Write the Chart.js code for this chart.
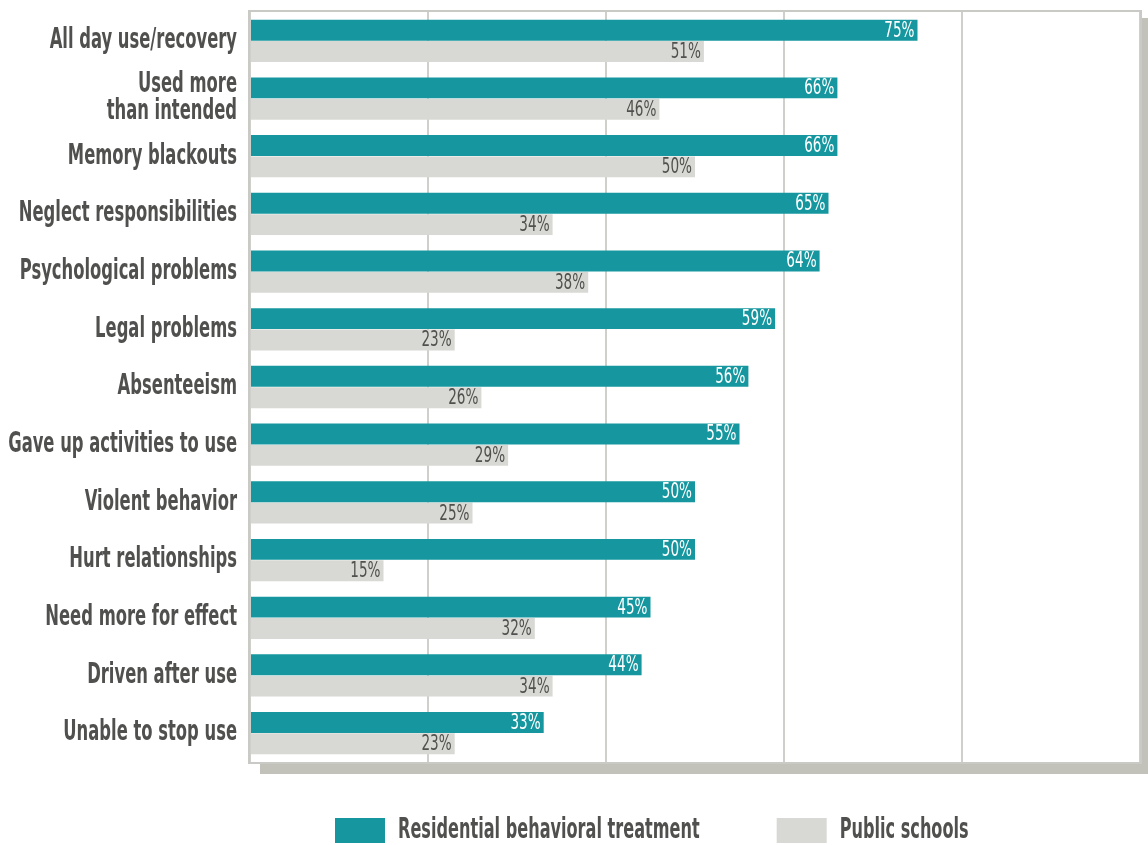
<!DOCTYPE html>
<html>
<head>
<meta charset="utf-8">
<script src="https://cdn.jsdelivr.net/npm/chart.js@4.4.1/dist/chart.umd.min.js"></script>
<style>
  html, body { margin: 0; padding: 0; background: #fff; }
</style>
</head>
<body>
<canvas id="myChart" width="1148" height="845"></canvas>
<script>
const categories = [
    'All day use/recovery',
    ['Used more', 'than intended'],
    'Memory blackouts',
    'Neglect responsibilities',
    'Psychological problems',
    'Legal problems',
    'Absenteeism',
    'Gave up activities to use',
    'Violent behavior',
    'Hurt relationships',
    'Need more for effect',
    'Driven after use',
    'Unable to stop use'
];
const residential = [75, 66, 66, 65, 64, 59, 56, 55, 50, 50, 45, 44, 33];
const publicSchools = [51, 46, 50, 34, 38, 23, 26, 29, 25, 15, 32, 34, 23];
const seriesNames = ['Residential behavioral treatment', 'Public schools'];

const FONT = "'DejaVu Sans Condensed', 'Liberation Sans Narrow', sans-serif";
const TEAL = '#16979f';
const GREY = '#d8d8d4';
const INK = '#50504e';

// draws text squeezed horizontally by sx, anchored at x with the given alignment
function narrowText(ctx, text, x, y, align, sx) {
    const w = ctx.measureText(text).width * sx;
    let left = x;
    if (align === 'right') left = x - w;
    else if (align === 'center') left = x - w / 2;
    ctx.save();
    ctx.translate(left, y);
    ctx.scale(sx, 1);
    ctx.textAlign = 'left';
    ctx.fillText(text, 0, 0);
    ctx.restore();
    return w;
}

// white panel with a grey drop shadow behind the bars, thin frame on top
const framePlugin = {
    id: 'frame',
    beforeDraw(chart) {
        const { ctx, chartArea: a } = chart;
        ctx.save();
        ctx.fillStyle = '#c2c2bb';
        ctx.fillRect(a.left + 10, a.top + 6, a.right - a.left, a.bottom - a.top + 6);
        ctx.fillRect(a.left + 10, a.bottom, a.right - a.left, 12);
        ctx.fillStyle = '#ffffff';
        ctx.fillRect(a.left, a.top, a.right - a.left, a.bottom - a.top);
        ctx.restore();
    },
    beforeDatasetsDraw(chart) {
        const { ctx, chartArea: a } = chart;
        ctx.save();
        ctx.strokeStyle = '#c9c9c6';
        ctx.lineWidth = 2;
        ctx.strokeRect(a.left - 1, a.top - 1, a.right - a.left + 2, a.bottom - a.top + 2);
        ctx.restore();
    }
};

// category names to the left of the panel
const categoryLabels = {
    id: 'categoryLabels',
    afterDraw(chart) {
        const ctx = chart.ctx;
        const yScale = chart.scales.y;
        const x = chart.chartArea.left - 13;
        ctx.save();
        ctx.font = 'bold 28px ' + FONT;
        ctx.fillStyle = INK;
        ctx.textBaseline = 'middle';
        chart.data.labels.forEach((label, i) => {
            const lines = Array.isArray(label) ? label : [label];
            const yc = yScale.getPixelForValue(i);
            const lh = 27;
            lines.forEach((line, k) => {
                const y = yc + (k - (lines.length - 1) / 2) * lh;
                narrowText(ctx, line, x, y, 'right', 0.65);
            });
        });
        ctx.restore();
    }
};

// percentage printed inside the end of every bar
const valueLabels = {
    id: 'valueLabels',
    afterDatasetsDraw(chart) {
        const ctx = chart.ctx;
        ctx.save();
        ctx.font = '21px ' + FONT;
        ctx.textBaseline = 'middle';
        chart.data.datasets.forEach((ds, i) => {
            ctx.fillStyle = i === 0 ? '#ffffff' : INK;
            chart.getDatasetMeta(i).data.forEach((bar, j) => {
                narrowText(ctx, ds.data[j] + '%', bar.x - 3, bar.y + 1, 'right', 0.72);
            });
        });
        ctx.restore();
    }
};

// legend row under the panel
const legendRow = {
    id: 'legendRow',
    afterDraw(chart) {
        const ctx = chart.ctx;
        const top = chart.chartArea.bottom + 56;
        let x = 335;
        ctx.save();
        ctx.font = 'bold 28px ' + FONT;
        ctx.textBaseline = 'middle';
        chart.data.datasets.forEach(ds => {
            ctx.fillStyle = ds.backgroundColor;
            ctx.fillRect(x, top, 50, 25);
            ctx.fillStyle = INK;
            const w = narrowText(ctx, ds.label, x + 63, top + 13, 'left', 0.64);
            x += 63 + w + 77;
        });
        ctx.restore();
    }
};

const config = {
    type: 'bar',
    data: {
        labels: categories,
        datasets: [{
            label: seriesNames[0],
            data: residential,
            backgroundColor: TEAL,
            categoryPercentage: 0.74,
            barPercentage: 0.98
        }, {
            label: seriesNames[1],
            data: publicSchools,
            backgroundColor: GREY,
            categoryPercentage: 0.74,
            barPercentage: 0.98
        }]
    },
    options: {
        indexAxis: 'y',
        responsive: false,
        animation: { duration: 0 },
        layout: { padding: { top: 12, right: 8, left: 0, bottom: 83 } },
        scales: {
            x: {
                min: 0,
                max: 100,
                ticks: { display: false, stepSize: 20 },
                grid: { color: '#cfcfcc', lineWidth: 2, drawTicks: false },
                border: { display: false }
            },
            y: {
                grid: { display: false, drawTicks: false },
                border: { display: false },
                ticks: { display: false, autoSkip: false },
                afterFit(scale) { scale.width = 250; }
            }
        },
        plugins: {
            tooltip: { enabled: false },
            legend: { display: false }
        }
    },
    plugins: [framePlugin, valueLabels, categoryLabels, legendRow]
};

const ctx = document.getElementById('myChart').getContext('2d');
window.myBars = new Chart(ctx, config);
</script>
</body>
</html>
